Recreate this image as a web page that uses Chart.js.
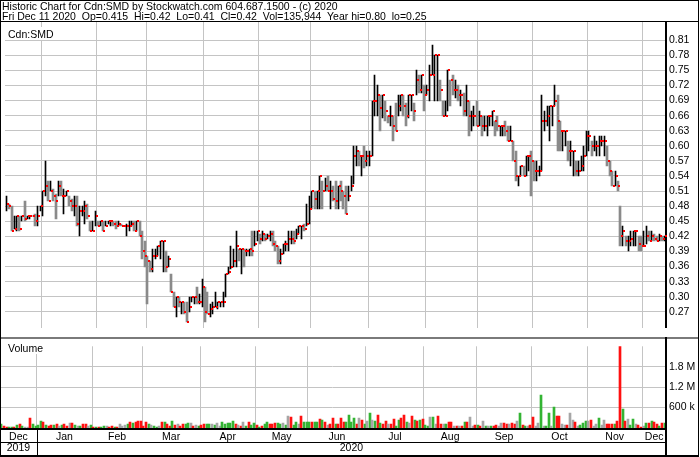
<!DOCTYPE html>
<html><head><meta charset="utf-8">
<script src="https://cdn.jsdelivr.net/npm/chart.js@4.4.1/dist/chart.umd.min.js"></script>
<style>
html,body{margin:0;padding:0;background:#fff;}
#wrap{position:relative;width:700px;height:457px;overflow:hidden;background:#fff;}
canvas{position:absolute;left:0;}
#price{top:0;}
#vol{top:337px;}
#hdrBox{position:absolute;left:0;top:0;width:699px;height:22px;border:1px solid #000;box-sizing:border-box;z-index:2;}
.hl{position:absolute;left:2px;font:10.5px/12px "Liberation Sans",Arial,sans-serif;white-space:pre;color:#000;z-index:3;}
</style></head>
<body><div id="wrap">
<canvas id="price" width="700" height="337"></canvas>
<canvas id="vol" width="700" height="120"></canvas>
<div id="hdrBox"></div>
<div class="hl" style="top:0px">Historic Chart for Cdn:SMD by Stockwatch.com 604.687.1500 - (c) 2020</div>
<div class="hl" style="top:10px">Fri Dec 11 2020  Op=0.415  Hi=0.42  Lo=0.41  Cl=0.42  Vol=135,944  Year hi=0.80  lo=0.25</div>
</div>
<script>
// ---- categories / tick labels ----
const monthNames = ['Dec','Jan','Feb','Mar','Apr','May','Jun','Jul','Aug','Sep','Oct','Nov','Dec'];
const monthTradingDays = [14,21,19,22,21,20,22,22,20,21,21,21,9];
const yearNames = ['2019','2020'];
const yearMonthCounts = [1,12];
const priceTicks = [0.27,0.30,0.33,0.36,0.39,0.42,0.45,0.48,0.51,0.54,0.57,0.60,0.63,0.66,0.69,0.72,0.75,0.78,0.81];
const volumeTicks = [600,1200,1800];
const volumeTickLabels = ['600 k','1.2 M','1.8 M'];

// ---- daily values (Dec 2019 .. Dec 2020) ----
const priceLow = [
 0.47,0.475,0.43,0.435,0.43,0.43,0.45,0.45,0.455,0.455,0.46,0.44,0.44,0.47,
 0.46,0.50,0.49,0.51,0.49,0.455,0.50,0.50,0.465,0.50,0.48,0.47,0.46,0.44,0.42,0.46,0.445,0.455,0.43,0.43,0.44,
 0.44,0.44,0.43,0.44,0.445,0.44,0.44,0.435,0.44,0.44,0.44,0.42,0.43,0.44,0.43,0.43,0.42,0.375,0.36,
 0.285,0.35,0.35,0.375,0.38,0.375,0.35,0.35,0.36,0.31,0.28,0.26,0.28,0.265,0.265,0.25,0.27,0.29,0.285,0.285,0.285,0.28,
 0.25,0.265,0.26,0.265,0.28,0.275,0.28,0.28,0.30,0.345,0.355,0.36,0.36,0.37,0.345,0.36,0.38,0.38,0.38,0.40,0.41,
 0.405,0.41,0.41,0.415,0.41,0.40,0.39,0.365,0.365,0.385,0.39,0.39,0.405,0.405,0.415,0.425,0.415,0.43,0.44,0.445,
 0.475,0.475,0.475,0.475,0.475,0.51,0.51,0.475,0.49,0.475,0.475,0.49,0.475,0.465,0.49,0.51,0.525,0.56,0.56,0.54,0.555,0.56,
 0.56,0.58,0.66,0.66,0.63,0.655,0.65,0.645,0.64,0.61,0.63,0.66,0.67,0.66,0.64,0.655,0.67,0.65,0.70,0.705,0.705,0.67,
 0.70,0.69,0.74,0.69,0.69,0.69,0.66,0.66,0.67,0.68,0.70,0.695,0.69,0.68,0.66,0.66,0.62,0.63,0.64,0.64,
 0.64,0.62,0.63,0.62,0.64,0.64,0.62,0.63,0.62,0.62,0.62,0.61,0.61,0.57,0.53,0.52,0.54,0.54,0.54,0.55,0.50,
 0.53,0.53,0.54,0.55,0.63,0.64,0.61,0.64,0.68,0.59,0.59,0.59,0.60,0.57,0.56,0.54,0.54,0.54,0.55,0.55,0.58,
 0.59,0.58,0.59,0.58,0.58,0.60,0.58,0.56,0.54,0.52,0.52,0.51,0.40,0.40,0.40,0.39,0.40,0.40,0.40,0.39,0.39,
 0.40,0.405,0.41,0.41,0.41,0.41,0.41,0.41,0.41
];
const priceHigh = [
 0.50,0.485,0.48,0.46,0.46,0.46,0.46,0.49,0.46,0.46,0.46,0.465,0.48,0.48,
 0.51,0.57,0.53,0.53,0.515,0.505,0.53,0.53,0.515,0.51,0.50,0.495,0.50,0.50,0.48,0.48,0.49,0.485,0.45,0.45,0.47,
 0.45,0.45,0.45,0.45,0.45,0.45,0.45,0.45,0.45,0.445,0.44,0.445,0.45,0.45,0.45,0.45,0.45,0.43,0.41,
 0.38,0.37,0.395,0.395,0.40,0.41,0.41,0.39,0.38,0.345,0.31,0.30,0.30,0.29,0.29,0.29,0.30,0.30,0.30,0.32,0.305,0.335,
 0.32,0.31,0.285,0.29,0.31,0.29,0.29,0.31,0.345,0.36,0.40,0.395,0.43,0.395,0.395,0.395,0.395,0.395,0.43,0.43,0.43,
 0.425,0.43,0.425,0.425,0.43,0.43,0.41,0.40,0.395,0.405,0.41,0.43,0.43,0.43,0.435,0.44,0.44,0.445,0.485,0.50,
 0.51,0.51,0.51,0.54,0.53,0.535,0.54,0.53,0.52,0.53,0.52,0.53,0.51,0.52,0.52,0.54,0.60,0.60,0.59,0.58,0.60,0.59,
 0.59,0.69,0.74,0.72,0.70,0.70,0.69,0.66,0.68,0.66,0.685,0.70,0.70,0.70,0.685,0.70,0.70,0.685,0.75,0.74,0.74,0.72,
 0.72,0.76,0.80,0.78,0.78,0.73,0.69,0.69,0.75,0.73,0.74,0.73,0.72,0.71,0.705,0.72,0.69,0.67,0.68,0.69,
 0.67,0.66,0.66,0.66,0.66,0.67,0.65,0.66,0.64,0.64,0.65,0.64,0.64,0.61,0.59,0.54,0.56,0.56,0.58,0.58,0.59,
 0.57,0.57,0.56,0.70,0.67,0.68,0.68,0.68,0.72,0.70,0.65,0.63,0.63,0.61,0.61,0.59,0.57,0.57,0.58,0.60,0.63,
 0.63,0.61,0.62,0.61,0.62,0.62,0.62,0.60,0.57,0.55,0.55,0.53,0.48,0.44,0.42,0.42,0.43,0.43,0.43,0.42,0.42,
 0.43,0.44,0.43,0.43,0.425,0.42,0.425,0.42,0.42
];
const priceClose = [
 0.485,0.48,0.43,0.435,0.46,0.435,0.46,0.455,0.46,0.46,0.46,0.45,0.46,0.48,
 0.51,0.52,0.49,0.51,0.50,0.49,0.52,0.50,0.50,0.51,0.49,0.48,0.48,0.445,0.47,0.47,0.48,0.46,0.43,0.43,0.46,
 0.44,0.45,0.43,0.44,0.45,0.45,0.445,0.44,0.445,0.44,0.44,0.44,0.44,0.445,0.43,0.45,0.42,0.39,0.38,
 0.37,0.355,0.38,0.38,0.40,0.41,0.41,0.36,0.375,0.31,0.28,0.30,0.29,0.29,0.27,0.25,0.28,0.30,0.30,0.29,0.29,0.32,
 0.27,0.265,0.275,0.28,0.28,0.29,0.29,0.29,0.345,0.35,0.36,0.37,0.40,0.395,0.395,0.39,0.39,0.395,0.39,0.405,0.43,
 0.415,0.425,0.415,0.42,0.425,0.405,0.40,0.37,0.385,0.405,0.405,0.415,0.415,0.41,0.425,0.44,0.44,0.435,0.445,0.475,
 0.51,0.495,0.51,0.54,0.51,0.52,0.51,0.51,0.495,0.49,0.52,0.51,0.50,0.465,0.50,0.52,0.58,0.59,0.58,0.58,0.57,0.58,
 0.58,0.69,0.69,0.70,0.675,0.70,0.67,0.66,0.66,0.64,0.63,0.68,0.70,0.68,0.66,0.70,0.70,0.67,0.73,0.71,0.74,0.70,
 0.71,0.74,0.74,0.78,0.78,0.71,0.66,0.66,0.75,0.73,0.71,0.71,0.70,0.70,0.67,0.69,0.66,0.66,0.66,0.64,
 0.66,0.64,0.64,0.66,0.66,0.67,0.65,0.64,0.64,0.64,0.63,0.61,0.61,0.57,0.54,0.54,0.56,0.54,0.58,0.58,0.57,
 0.55,0.55,0.55,0.65,0.65,0.66,0.68,0.68,0.69,0.65,0.63,0.63,0.63,0.59,0.59,0.59,0.55,0.55,0.56,0.58,0.62,
 0.62,0.60,0.60,0.60,0.61,0.61,0.61,0.57,0.55,0.52,0.54,0.52,0.42,0.43,0.41,0.41,0.415,0.43,0.43,0.405,0.40,
 0.40,0.42,0.41,0.42,0.415,0.41,0.42,0.415,0.42
];
// volume in thousands of shares
const volumeK = [
 130,45,25,25,25,25,85,130,45,20,20,285,110,45,
 85,215,190,85,45,85,85,110,70,85,130,70,155,155,85,60,70,130,105,45,85,
 25,25,25,25,60,45,25,45,25,25,105,45,85,105,170,155,190,200,215,
 60,170,105,85,60,25,45,190,190,130,45,215,85,105,45,105,130,155,155,45,85,70,
 85,105,130,105,110,85,155,45,170,105,155,155,215,105,85,60,170,70,170,85,155,
 85,25,70,105,170,130,130,155,155,110,155,85,345,320,85,170,105,345,170,190,
 190,170,190,190,260,240,190,85,105,300,105,105,285,190,190,370,170,285,105,300,240,105,
 215,455,240,215,385,145,105,215,130,105,260,70,240,285,370,170,155,345,240,215,240,260,
 85,45,325,320,130,345,110,110,110,170,190,60,60,60,60,190,190,320,45,85,
 85,60,200,70,45,60,60,85,45,145,145,110,130,145,130,215,455,85,70,70,85,
 325,60,155,970,60,60,430,45,620,360,345,105,85,85,455,230,170,70,85,145,215,
 215,230,45,110,300,85,240,110,110,110,110,200,2450,560,200,260,85,275,130,85,25,
 70,140,140,200,180,130,70,135,135.9
];

// ---- build categories ----
const categories = [];
const monthStart = [];
monthNames.forEach((m, i) => {
  monthStart.push(categories.length);
  for (let k = 0; k < monthTradingDays[i]; k++) categories.push(m + ' ' + (k + 1));
});
const gridStarts = new Set(monthStart.slice(1));
const dir = priceClose.map((c, i) => i === 0 ? 1 : Math.sign(c - priceClose[i - 1]));

const FONT = '"Liberation Sans", Arial, sans-serif';
const FS = 10.5;
Chart.defaults.font.family = FONT;
Chart.defaults.font.size = FS;
Chart.defaults.color = '#000';

const GRID = '#c4c4c4';
const AXIS_W = 34;

function xScaleOpts() {
  return {
    type: 'category', offset: true,
    grid: { offset: true, drawTicks: false, lineWidth: 1,
      color: ctx => gridStarts.has(ctx.index) ? GRID : 'rgba(0,0,0,0)' },
    ticks: { display: false, autoSkip: false },
    border: { display: false },
    afterFit: s => { s.height = 0; }
  };
}

// snap library-computed element positions onto the pixel grid for crisp 1px bars
const snap = {
  id: 'snap',
  afterDatasetsUpdate(chart) {
    chart.data.datasets.forEach((ds, di) => {
      const meta = chart.getDatasetMeta(di);
      const w = meta.type === 'bar' ? (ds.barThickness || 2) : 1;
      meta.data.forEach(el => {
        if (!el || !isFinite(el.x) || !isFinite(el.y)) return;
        el.x = (w % 2 === 1) ? Math.floor(el.x) + 0.5 : Math.round(el.x);
        el.y = Math.round(el.y);
        if (isFinite(el.base)) el.base = Math.round(el.base);
      });
    });
  }
};

const tickImg = document.createElement('canvas');
tickImg.width = 5; tickImg.height = 2;
const tc = tickImg.getContext('2d');
tc.fillStyle = '#ff0000'; tc.fillRect(3, 0, 2, 2);

const pricePanel = {
  id: 'pricePanel',
  afterDraw(chart) {
    const c = chart.ctx;
    c.save();
    c.fillStyle = '#fff';
    c.fillRect(3, 27, 54, 13);
    c.fillStyle = '#000';
    c.font = FS + 'px ' + FONT;
    c.textBaseline = 'alphabetic';
    c.textAlign = 'left';
    c.fillText('Cdn:SMD', 8, 38);
    c.fillRect(0, 21, 1, 316);
    c.fillRect(698, 0, 1, 337);
    c.restore();
  }
};

new Chart(document.getElementById('price'), {
  type: 'bar',
  data: {
    labels: categories,
    datasets: [
      { type: 'line', data: priceClose, showLine: false, pointStyle: tickImg, pointRadius: 2, order: 0 },
      { data: categories.map((_, i) => dir[i] >= 0 ? [priceLow[i], priceHigh[i]] : null),
        backgroundColor: '#000', barThickness: 1, grouped: false, order: 1 },
      { data: categories.map((_, i) => dir[i] < 0 ? [priceLow[i], priceHigh[i]] : null),
        backgroundColor: '#8a8a8a', barThickness: 2, grouped: false, order: 2 }
    ]
  },
  options: {
    responsive: false, animation: false, events: [],
    layout: { padding: { top: 22, left: 0, right: 0, bottom: 0 } },
    plugins: { legend: { display: false }, tooltip: { enabled: false } },
    scales: {
      x: xScaleOpts(),
      y: {
        position: 'right', min: 0.2384, max: 0.8461,
        afterBuildTicks: s => { s.ticks = priceTicks.map(v => ({ value: v })); },
        afterFit: s => { s.width = AXIS_W; },
        ticks: { autoSkip: false, padding: 3, color: '#000', callback: v => v.toFixed(2) },
        grid: { color: GRID, drawTicks: false, lineWidth: 1 },
        border: { color: '#000', width: 2 }
      }
    }
  },
  plugins: [snap, pricePanel]
});

const volPanel = {
  id: 'volPanel',
  afterDraw(chart) {
    const c = chart.ctx;
    const xs = chart.scales.x;
    const ca = chart.chartArea;
    const right = ca.right;
    c.save();
    c.fillStyle = '#fff';
    c.fillRect(3, 5, 46, 12);
    c.fillStyle = '#000';
    c.font = FS + 'px ' + FONT;
    c.textAlign = 'left';
    c.textBaseline = 'alphabetic';
    c.fillText('Volume', 8, 15);
    c.fillStyle = '#7a7a7a';
    c.fillRect(0, 0, 699, 2);
    c.fillStyle = '#000';
    c.fillRect(0, 0, 1, 120);
    c.fillRect(698, 0, 1, 120);
    c.fillRect(Math.round(right) - 1, 0, 2, 120);
    c.fillRect(0, 91, Math.round(right), 2);
    c.fillRect(0, 105, Math.round(right), 1);
    c.fillRect(0, 118, 699, 2);
    const half = (xs.getPixelForValue(1) - xs.getPixelForValue(0)) / 2;
    c.textAlign = 'center';
    monthNames.forEach((m, i) => {
      const s = monthStart[i], e = s + monthTradingDays[i] - 1;
      const cx = (xs.getPixelForValue(s) + xs.getPixelForValue(e)) / 2;
      c.fillText(m, cx, 102.5);
    });
    let mi = 0;
    yearNames.forEach((y, i) => {
      const s = monthStart[mi];
      const lastMonth = mi + yearMonthCounts[i] - 1;
      const e = monthStart[lastMonth] + monthTradingDays[lastMonth] - 1;
      const x0 = xs.getPixelForValue(s) - half, x1 = xs.getPixelForValue(e) + half;
      c.fillText(y, (x0 + x1) / 2, 114);
      if (i > 0) c.fillRect(Math.round(x0), 91, 1, 29);
      mi += yearMonthCounts[i];
    });
    c.restore();
  }
};

const volColors = dir.map(d => d > 0 ? '#33b433' : (d < 0 ? '#ff1010' : '#a6a6a6'));

new Chart(document.getElementById('vol'), {
  type: 'bar',
  data: {
    labels: categories,
    datasets: [{ data: volumeK, backgroundColor: volColors, barThickness: 2 }]
  },
  options: {
    responsive: false, animation: false, events: [],
    layout: { padding: { top: 2, left: 0, right: 0, bottom: 29 } },
    plugins: { legend: { display: false }, tooltip: { enabled: false } },
    scales: {
      x: xScaleOpts(),
      y: {
        position: 'right', min: 0, max: 2400,
        afterBuildTicks: s => { s.ticks = volumeTicks.map(v => ({ value: v })); },
        afterFit: s => { s.width = AXIS_W; },
        ticks: { autoSkip: false, padding: 3, color: '#000', callback: (v, i) => volumeTickLabels[i] },
        grid: { color: GRID, drawTicks: false, lineWidth: 1 },
        border: { color: '#000', width: 2 }
      }
    }
  },
  plugins: [snap, volPanel]
});
</script>
</body></html>
